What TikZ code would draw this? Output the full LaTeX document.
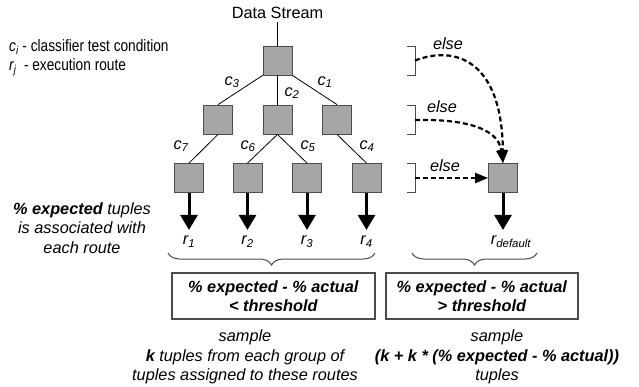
\documentclass[tikz,border=0pt]{standalone}
\usepackage{fontspec}
\setmainfont{Liberation Sans}
\newfontfamily\narrowfont[FakeStretch=0.83]{Liberation Sans}
\usetikzlibrary{arrows.meta,decorations.pathreplacing,positioning}

\newcommand{\base}{\fontsize{16.3}{19.5}\selectfont}
\newcommand{\lgfont}{\narrowfont\fontsize{16.5}{19.5}\selectfont}
\newcommand{\lbl}[2]{\textit{#1\textsubscript{#2}}}
\newcommand{\bi}[1]{\textbf{\textit{#1}}}

\tikzset{
  cond/.style={draw=black!70, fill=black!35, line width=0.8pt, minimum size=29pt, inner sep=0pt},
  branch/.style={line width=0.8pt},
  clabel/.style={inner sep=0pt, font=\base},
  route/.style={-{Triangle[width=17pt,length=15pt]}, line width=3pt},
  elseflow/.style={-{Triangle[width=10pt,length=13pt]}, line width=2.2pt, dash pattern=on 5pt off 3pt},
  elsebrk/.style={line width=1pt, black!70},
  grpbrace/.style={decorate, decoration={brace, amplitude=12pt, mirror}, line width=1pt, black!70},
  testbox/.style={draw=black!70, line width=1.2pt, minimum height=46pt, align=center, inner sep=0pt}
}

\begin{document}
\begin{tikzpicture}[x=1pt, y=-1pt, font=\base]
    \useasboundingbox (0,0) rectangle (639,386);

    % Legenda
    \node[anchor=west, inner sep=0pt, font=\lgfont] (lgc) at (9,47) {\lbl{c}{i} - classifier test condition};
    \node[anchor=west, inner sep=0pt, font=\lgfont] (lgr) at (9,67) {\lbl{r}{j}\ \ - execution route};

    % Albero dei classificatori
    \node (ds) at (277.5,13) {Data Stream};
    \node[cond] (n0) at (277.5,60.5) {};
    \node[cond] (n1) at (218,119.5) {};
    \node[cond] (n2) at (277.5,119.5) {};
    \node[cond] (n3) at (337,119.5) {};
    \node[cond] (n4) at (189,178) {};
    \node[cond] (n5) at (247.5,178) {};
    \node[cond] (n6) at (307,178) {};
    \node[cond] (n7) at (366.5,178) {};
    \node[cond] (nd) at (503,178) {};

    \draw[branch] (ds) -- (n0);
    \draw[branch] (n0.south west) -- (n1.north);
    \draw[branch] (n0) -- (n2);
    \draw[branch] (n0.south east) -- (n3.north);
    \draw[branch] (n1.south) -- (n4.north);
    \draw[branch] (n2.south) -- (n5.north);
    \draw[branch] (n2.south) -- (n6.north);
    \draw[branch] (n3.south) -- (n7.north);

    \node[clabel] (c3) at (232,82) {\lbl{c}{3}};
    \node[clabel] (c2) at (292,93) {\lbl{c}{2}};
    \node[clabel] (c1) at (325,82) {\lbl{c}{1}};
    \node[clabel] (c7) at (181,146) {\lbl{c}{7}};
    \node[clabel] (c6) at (248,146) {\lbl{c}{6}};
    \node[clabel] (c5) at (308,146) {\lbl{c}{5}};
    \node[clabel] (c4) at (367,146) {\lbl{c}{4}};

    % Rotte di esecuzione
    \foreach \i/\n in {1/4,2/5,3/6,4/7} {
        \node[below=37pt of n\n, inner sep=6pt] (r\i) {\lbl{r}{\i}};
        \draw[route] (n\n) -- (r\i);
    }
    \node[below=37pt of nd, inner sep=6pt, xshift=8pt] (rd) {\lbl{r}{default}};
    \draw[route] (nd) -- (nd |- rd.north);

    % Rami else
    \foreach \n/\y in {0/60.5,1/120,2/178} {
        \coordinate (b\n) at (415,\y);
        \draw[elsebrk] (b\n) ++(-8,-14.5) -- ++(8,0) -- ++(0,29) -- ++(-8,0);
    }
    \node[font=\base\itshape, inner sep=0pt] (e0) at (448,44) {else};
    \node[font=\base\itshape, inner sep=0pt] (e1) at (442,107) {else};
    \node[font=\base\itshape, inner sep=0pt] (e2) at (445,166) {else};
    \draw[elseflow] (b0) .. controls (455,45) and (502,60) .. (nd.north);
    \draw[elseflow] (b1) .. controls (455,119) and (498,125) .. (nd.north);
    \draw[elseflow] (b2) -- (nd.west);

    % Gruppi e soglie
    \draw[grpbrace] (168,253) -- (375,253);
    \draw[grpbrace] (412,253) -- (537,253);
    \node[testbox, minimum width=203pt] (lt) at (273.5,296) {\bi{\% expected - \% actual}\\\bi{< threshold}};
    \node[testbox, minimum width=192pt] (rt) at (482,296) {\bi{\% expected - \% actual}\\\bi{> threshold}};

    % Campionamento
    \node[font=\base\itshape, align=center] (note) at (82,228) {\textbf{\% expected} tuples\\is associated with\\each route};
    \node[font=\base\itshape, align=center] (ls) at (245,357) {sample\\\textbf{k} tuples from each group of\\tuples assigned to these routes};
    \node[font=\base\itshape, align=center] (rs) at (497,357) {sample\\\textbf{(k + k * (\% expected - \% actual))}\\tuples};
\end{tikzpicture}
\end{document}
